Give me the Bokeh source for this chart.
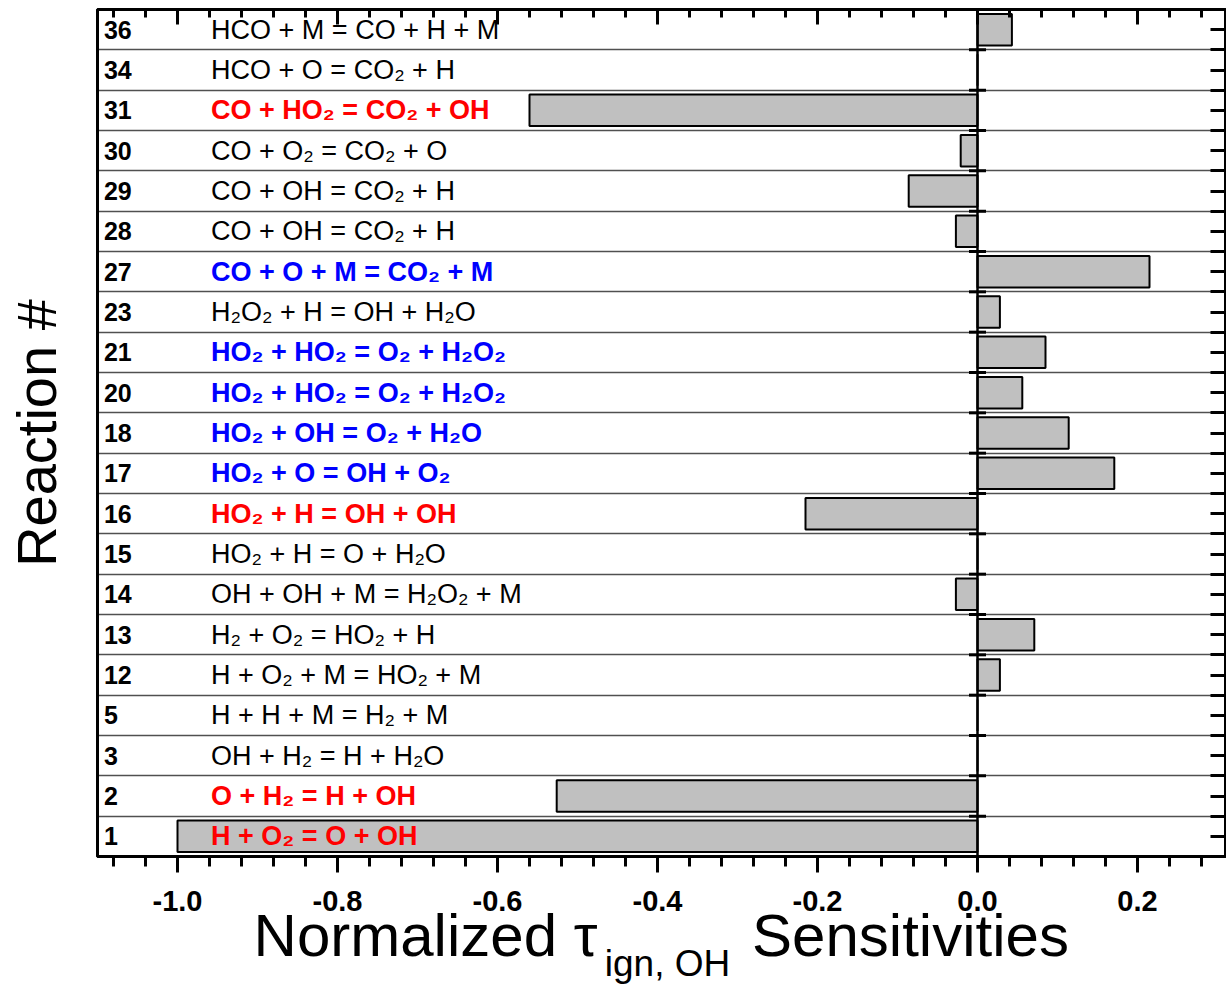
import math
from bokeh.plotting import figure
from bokeh.models import (ColumnDataSource, Range1d, LinearAxis, FixedTicker,
                          SingleIntervalTicker, NumeralTickFormatter,
                          CustomJSTickFormatter, Span)
from bokeh.core.properties import value
from bokeh.embed import file_html
from bokeh.resources import INLINE

# ---------------- data (bottom row first) ----------------
reaction_ids = [1, 2, 3, 5, 12, 13, 14, 15, 16, 17, 18, 20, 21, 23, 27, 28, 29, 30, 31, 34, 36]
reactions = [
    "H + O₂ = O + OH",
    "O + H₂ = H + OH",
    "OH + H₂ = H + H₂O",
    "H + H + M = H₂ + M",
    "H + O₂ + M = HO₂ + M",
    "H₂ + O₂ = HO₂ + H",
    "OH + OH + M = H₂O₂ + M",
    "HO₂ + H = O + H₂O",
    "HO₂ + H = OH + OH",
    "HO₂ + O = OH + O₂",
    "HO₂ + OH = O₂ + H₂O",
    "HO₂ + HO₂ = O₂ + H₂O₂",
    "HO₂ + HO₂ = O₂ + H₂O₂",
    "H₂O₂ + H = OH + H₂O",
    "CO + O + M = CO₂ + M",
    "CO + OH = CO₂ + H",
    "CO + OH = CO₂ + H",
    "CO + O₂ = CO₂ + O",
    "CO + HO₂ = CO₂ + OH",
    "HCO + O = CO₂ + H",
    "HCO + M = CO + H + M",
]
sensitivity = [-1.0, -0.526, 0.0, 0.0, 0.028, 0.071, -0.027, 0.0, -0.215, 0.171,
               0.114, 0.056, 0.085, 0.028, 0.215, -0.027, -0.086, -0.021, -0.56, 0.0, 0.043]
highlight = ["red", "red", "none", "none", "none", "none", "none", "none", "red", "blue",
             "blue", "blue", "blue", "none", "blue", "none", "none", "none", "red", "none", "none"]

x_title_main = "Normalized τ"
x_title_sub = "ign, OH"
x_title_end = "Sensitivities"
y_title = "Reaction #"

FONT = "Liberation Sans"
color_map = {"red": "#ff0000", "blue": "#0000ff", "none": "#000000"}
style_map = {"red": "bold", "blue": "bold", "none": "normal"}

n = len(reaction_ids)
ypos = list(range(n))
src = ColumnDataSource(dict(
    y=ypos,
    val=sensitivity,
    zero=[0.0] * n,
    label=reactions,
    num=[str(r) for r in reaction_ids],
    color=[color_map[h] for h in highlight],
    style=[style_map[h] for h in highlight],
))

p = figure(width=1226, height=986, output_backend="svg", toolbar_location=None,
           x_range=Range1d(-1.1, 0.31), y_range=Range1d(-0.5, n - 0.5),
           min_border_left=97, min_border_right=1, min_border_top=9, min_border_bottom=129)
p.background_fill_color = "white"
p.border_fill_color = "white"
p.outline_line_color = "black"
p.outline_line_width = 3

# grid: only horizontal separators between rows
p.xgrid.visible = False
p.ygrid.ticker = FixedTicker(ticks=[i + 0.5 for i in range(n - 1)])
p.ygrid.grid_line_color = "#505050"
p.ygrid.grid_line_width = 1.5

empty = CustomJSTickFormatter(code="return ''")

# left axis: frame line and the y title
yl = p.left[0]
yl.ticker = FixedTicker(ticks=[])
yl.formatter = empty
yl.major_label_standoff = 0
yl.major_tick_in = 0
yl.major_tick_out = 0
yl.minor_tick_in = 0
yl.minor_tick_out = 0
yl.axis_line_width = 3
yl.axis_label = y_title
yl.axis_label_text_font = FONT
yl.axis_label_text_font_size = "56px"
yl.axis_label_text_font_style = "normal"
yl.axis_label_text_color = "black"
yl.axis_label_standoff = 30

# bottom axis
xb = p.below[0]
xb.ticker = SingleIntervalTicker(interval=0.2, num_minor_ticks=5)
xb.formatter = NumeralTickFormatter(format="0.0")
xb.major_label_text_font = FONT
xb.major_label_text_font_style = "bold"
xb.major_label_text_font_size = "29px"
xb.major_label_text_color = "black"
xb.major_label_standoff = 18
xb.major_tick_in = 0
xb.major_tick_out = 16
xb.minor_tick_in = 0
xb.minor_tick_out = 10
xb.major_tick_line_width = 3
xb.minor_tick_line_width = 3
xb.axis_line_width = 3

# x title pieces, placed as labels of helper axes so they sit at their spots
def px_to_x(px):
    return (px - 977) / 800.0

xa_main = px_to_x(425)
xa_end = px_to_x(910)
xa_sub = px_to_x(667)
title_axis = LinearAxis(ticker=FixedTicker(ticks=[xa_main, xa_end]),
                        major_label_overrides={xa_main: x_title_main, xa_end: x_title_end},
                        major_tick_in=0, major_tick_out=0, minor_tick_in=0, minor_tick_out=0,
                        axis_line_color=None, major_tick_line_color=None,
                        minor_tick_line_color=None,
                        major_label_text_font=FONT, major_label_text_font_size="60px",
                        major_label_text_color="black", major_label_standoff=-12)
p.add_layout(title_axis, "below")
sub_axis = LinearAxis(ticker=FixedTicker(ticks=[xa_sub]),
                      major_label_overrides={xa_sub: x_title_sub},
                      major_tick_in=0, major_tick_out=0, minor_tick_in=0, minor_tick_out=0,
                      axis_line_color=None, major_tick_line_color=None,
                      minor_tick_line_color=None,
                      major_label_text_font=FONT, major_label_text_font_size="37px",
                      major_label_text_color="black", major_label_standoff=-29)
p.add_layout(sub_axis, "below")

# top axis: ticks pointing inward, no labels
xt = LinearAxis(ticker=SingleIntervalTicker(interval=0.2, num_minor_ticks=5),
                formatter=empty, major_label_standoff=0,
                major_tick_in=15, major_tick_out=0, minor_tick_in=8, minor_tick_out=0,
                major_tick_line_width=3, minor_tick_line_width=3, axis_line_width=3)
p.add_layout(xt, "above")

# right axis: ticks at row centres and boundaries, inward
yr = LinearAxis(ticker=FixedTicker(ticks=[i * 0.5 - 0.5 for i in range(2 * n + 1)]),
                formatter=empty, major_label_standoff=0,
                major_tick_in=15, major_tick_out=0, minor_tick_in=0, minor_tick_out=0,
                major_tick_line_width=3, axis_line_width=3)
p.add_layout(yr, "right")

# bars
p.hbar(y="y", left="zero", right="val", height=0.78, source=src,
       fill_color="#c0c0c0", line_color="black", line_width=2)

# zero line with small cross ticks at row boundaries
p.add_layout(Span(location=0, dimension="height", line_color="black", line_width=2.5))
p.scatter(x=0, y=[i + 0.5 for i in range(n - 1)], marker="dash", size=17,
          line_width=3, line_color="black")

# reaction labels and numbers
p.text(x=-0.958, y="y", text="label", source=src, text_color="color",
       text_font_style="style", text_font=value(FONT), text_font_size="27px",
       text_baseline="middle", text_align="left")
p.text(x=-1.092, y="y", text="num", source=src, text_color="black",
       text_font_style="bold", text_font=value(FONT), text_font_size="25px",
       text_baseline="middle", text_align="left")

open("out.html", "w").write(file_html(p, INLINE))
